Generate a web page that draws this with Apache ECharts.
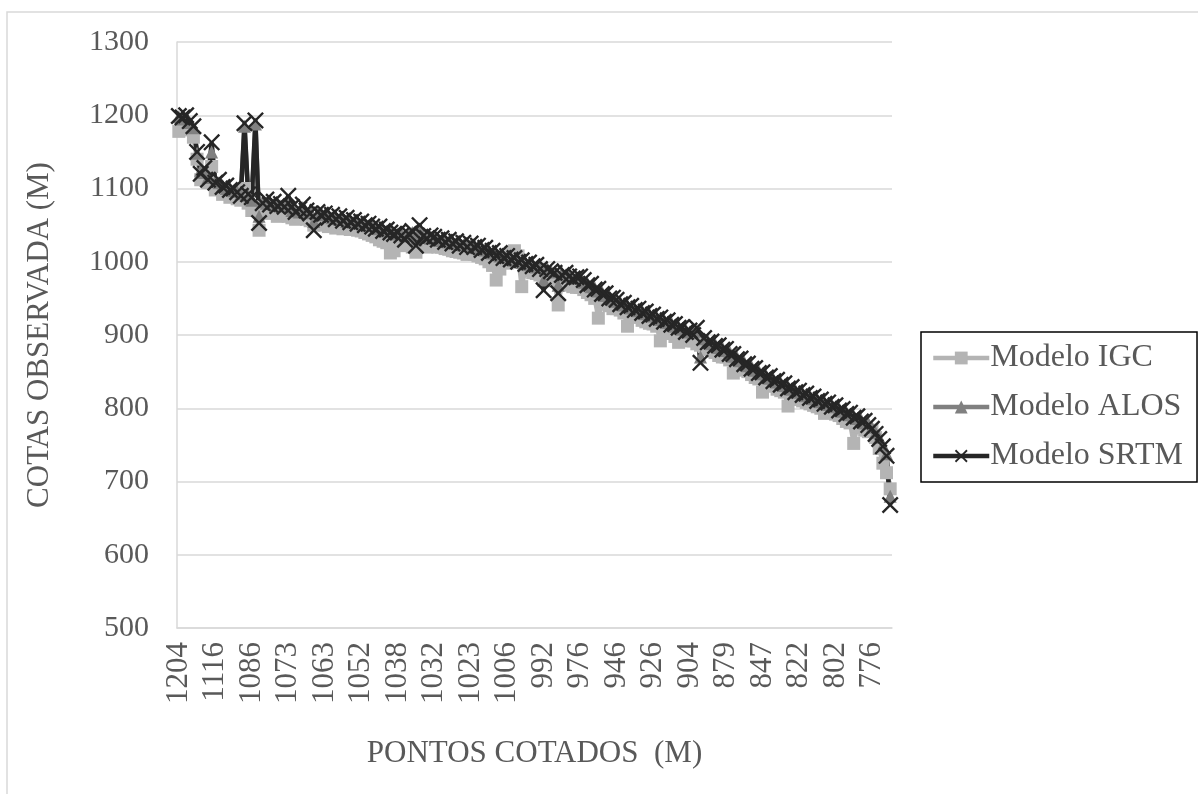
<!DOCTYPE html>
<html><head><meta charset="utf-8">
<script src="https://cdn.jsdelivr.net/npm/echarts@6/dist/echarts.min.js"></script>
<style>html,body{margin:0;padding:0;background:#fff}#c{width:1198px;height:794px}</style>
</head><body><div id="c"></div>
<script>
const categories = [
1204,1201,1198,1195,1190,1160,1135,1125,1120,1118,
1116,1112,1108,1106,1104,1102,1100,1098,1096,1094,
1086,1085,1084,1083,1082,1081,1080,1079,1078,1077,
1073,1072,1071,1071,1070,1069,1068,1067,1066,1065,
1063,1062,1061,1060,1059,1058,1057,1056,1055,1054,
1052,1051,1050,1049,1047,1046,1044,1043,1041,1040,
1038,1037,1037,1036,1036,1035,1035,1034,1034,1033,
1032,1031,1030,1029,1028,1027,1026,1025,1024,1023,
1023,1022,1020,1019,1017,1015,1013,1011,1009,1007,
1006,1005,1003,1002,1000,999,997,996,994,993,
992,990,989,987,986,984,983,981,979,978,
976,973,970,967,964,961,958,955,952,949,
946,944,942,940,938,936,934,932,930,928,
926,924,922,920,918,916,913,911,909,906,
904,902,899,897,894,892,889,887,884,882,
879,876,872,869,866,862,859,856,853,850,
847,844,842,839,837,834,832,829,827,824,
822,820,818,816,814,812,810,808,806,804,
802,799,797,794,792,789,787,784,781,779,
776,772,768,760,745,720];

const igc = [
1178,1190,1185,1180,1170,1140,1112,1115,1108,1130,
1098,1100,1092,1095,1088,1090,1086,1084,1100,1080,
1070,1075,1043,1068,1072,1066,1070,1062,1067,1064,
1062,1060,1058,1062,1060,1058,1056,1050,1057,1055,
1050,1048,1052,1046,1049,1045,1048,1044,1046,1043,
1042,1040,1038,1036,1034,1030,1028,1026,1012,1015,
1028,1026,1022,1025,1020,1013,1024,1022,1020,1023,
1022,1020,1020,1018,1017,1015,1014,1013,1012,1010,
1012,1010,1008,1006,1004,1000,995,975,990,1005,
998,1012,1015,1008,966,990,988,985,984,982,
980,978,976,974,941,970,972,968,966,965,
965,962,958,955,950,923,946,942,940,936,
936,934,930,912,928,925,924,920,918,916,
915,912,892,908,905,902,898,890,896,892,
894,892,888,886,884,880,878,876,872,870,
870,866,848,860,856,852,850,846,842,840,
822,835,832,830,826,824,822,803,815,812,
812,810,808,806,804,802,800,793,796,794,
792,790,786,782,780,752,776,774,770,768,
770,760,745,725,712,690];

const alos = [
1198,1195,1196,1190,1183,1148,1125,1122,1115,1150,
1110,1108,1104,1100,1101,1097,1096,1093,1185,1090,
1084,1188,1062,1082,1080,1080,1078,1079,1076,1077,
1078,1070,1072,1068,1074,1067,1070,1055,1066,1066,
1064,1063,1060,1061,1058,1059,1055,1057,1054,1055,
1053,1052,1049,1050,1046,1045,1043,1042,1042,1039,
1038,1039,1035,1037,1040,1030,1044,1033,1035,1032,
1033,1032,1029,1030,1027,1028,1025,1026,1023,1024,
1022,1023,1019,1020,1016,1016,1012,1012,1008,1008,
1006,1006,1002,1003,999,1000,996,997,993,994,
975,991,988,986,968,985,982,980,978,977,
978,972,971,966,965,960,959,954,953,948,
946,945,941,941,937,937,933,933,929,929,
926,925,921,921,917,917,912,912,908,907,
904,903,905,870,895,893,888,888,883,883,
879,877,871,870,865,863,858,857,852,851,
847,845,841,840,836,835,831,830,826,825,
822,821,817,817,813,813,809,809,805,805,
802,800,796,795,791,790,786,785,780,780,
774,767,760,750,738,680];

const srtm = [
1199,1197,1200,1192,1185,1150,1120,1128,1112,1163,
1108,1112,1102,1104,1098,1100,1095,1090,1189,1092,
1088,1193,1053,1080,1085,1078,1082,1076,1079,1075,
1090,1075,1068,1072,1078,1070,1066,1043,1068,1064,
1066,1060,1064,1058,1062,1056,1060,1054,1057,1052,
1055,1050,1052,1048,1045,1048,1042,1044,1040,1038,
1040,1036,1030,1038,1042,1022,1050,1035,1032,1036,
1034,1030,1032,1027,1030,1025,1028,1022,1026,1020,
1025,1020,1022,1016,1019,1012,1015,1008,1012,1005,
1008,1003,1005,1000,1002,997,999,994,996,990,
961,990,987,985,957,982,985,980,977,979,
980,975,968,970,962,963,956,957,950,951,
948,942,944,938,940,934,936,930,932,926,
928,922,924,918,920,914,915,910,911,904,
906,900,910,862,896,890,891,885,886,880,
881,874,874,867,868,860,861,854,855,848,
849,842,844,837,839,832,834,827,829,822,
824,818,820,814,816,810,812,806,808,802,
804,797,799,792,794,787,789,782,783,777,
772,765,758,748,735,668];

const seriesNames = ['Modelo IGC','Modelo ALOS','Modelo SRTM'];
const yTicks = {min:500, max:1300, step:100};

const FONT = "'Liberation Serif', 'Times New Roman', serif";
const TXT = '#595959';
const GRID = '#d9d9d9';
const xPath = 'path://M0,1 L1,0 L5,4 L9,0 L10,1 L6,5 L10,9 L9,10 L5,6 L1,10 L0,9 L4,5 Z';

const chart = echarts.init(document.getElementById('c'), null, {renderer:'canvas'});
chart.setOption({
  backgroundColor:'#fff',
  animation:false,
  graphic:[{type:'rect', shape:{x:7,y:12,width:1300,height:900}, style:{fill:'none', stroke:GRID, lineWidth:1.5}, silent:true}],
  grid:{left:177, right:306, top:42, bottom:166},
  legend:{
    orient:'vertical', left:921, top:332,
    data:seriesNames,
    borderColor:'#000', borderWidth:1.5,
    padding:[10,14,10,10],
    itemGap:17, itemWidth:56, itemHeight:16,
    lineStyle:{width:4.5},
    textStyle:{fontFamily:FONT, fontSize:32, color:TXT, padding:[0,0,0,-4]},
    backgroundColor:'#fff'
  },
  xAxis:{
    type:'category', data:categories, boundaryGap:true,
    name:'PONTOS COTADOS  (M)', nameLocation:'middle', nameGap:110,
    nameTextStyle:{fontFamily:FONT, fontSize:31, color:TXT},
    axisLine:{show:true, lineStyle:{color:GRID, width:1.5}},
    axisTick:{show:false},
    axisLabel:{interval:9, rotate:90, margin:14, fontFamily:FONT, fontSize:31, color:TXT}
  },
  yAxis:{
    type:'value', min:yTicks.min, max:yTicks.max, interval:yTicks.step,
    name:'COTAS OBSERVADA (M)', nameLocation:'middle', nameGap:122, nameRotate:90,
    nameTextStyle:{fontFamily:FONT, fontSize:31, color:TXT},
    axisLine:{show:true, lineStyle:{color:GRID, width:1.5}},
    axisTick:{show:false},
    splitLine:{lineStyle:{color:GRID, width:1.5}},
    axisLabel:{margin:28, fontFamily:FONT, fontSize:30, color:TXT, formatter:(v)=>String(v)}
  },
  series:[
    {name:seriesNames[0], type:'line', data:igc, symbol:'rect', symbolSize:13, showAllSymbol:true,
     lineStyle:{color:'#b4b4b4', width:4.5}, itemStyle:{color:'#b4b4b4'}},
    {name:seriesNames[1], type:'line', data:alos, symbol:'triangle', symbolSize:13, showAllSymbol:true,
     lineStyle:{color:'#808080', width:4.5}, itemStyle:{color:'#808080'}},
    {name:seriesNames[2], type:'line', data:srtm, symbol:xPath, symbolSize:17, showAllSymbol:true,
     lineStyle:{color:'#262626', width:4.5}, itemStyle:{color:'#262626'}}
  ]
});
</script></body></html>
